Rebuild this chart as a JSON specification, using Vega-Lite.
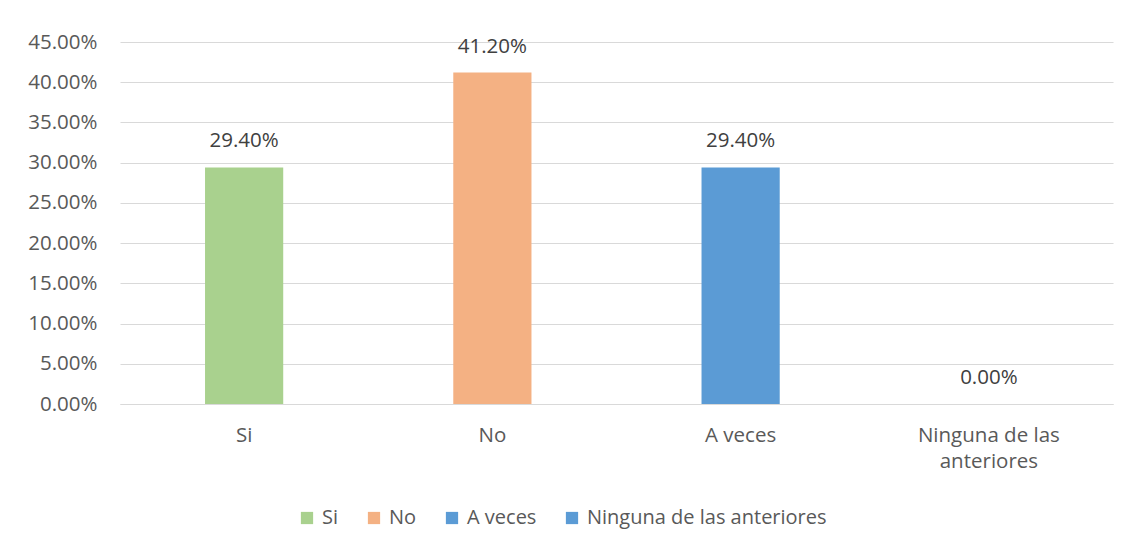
{
  "$schema": "https://vega.github.io/schema/vega-lite/v6.json",
  "width": 993,
  "height": 362,
  "autosize": {"type": "none"},
  "padding": {"left": 120, "top": 42, "right": 25, "bottom": 143},
  "background": "white",
  "config": {
    "view": {"stroke": null},
    "font": "Open Sans",
    "axis": {"labelFont": "Open Sans", "labelFontSize": 20.5, "labelColor": "#595959", "gridColor": "#D9D9D9", "ticks": false, "title": null},
    "legend": {"labelFont": "Open Sans", "labelFontSize": 20, "labelColor": "#595959", "labelLimit": 500}
  },
  "data": {
    "values": [
      {"categoria": "Si", "valor": 0.294},
      {"categoria": "No", "valor": 0.412},
      {"categoria": "A veces", "valor": 0.294},
      {"categoria": "Ninguna de las anteriores", "valor": 0.0}
    ]
  },
  "encoding": {
    "x": {
      "field": "categoria",
      "type": "nominal",
      "sort": null,
      "scale": {"paddingInner": 0, "paddingOuter": 0},
      "axis": {
        "labelAngle": 0,
        "labelPadding": 21,
        "labelBaseline": "top",
        "labelLineHeight": 26,
        "labelExpr": "datum.value == 'Ninguna de las anteriores' ? ['Ninguna de las', 'anteriores'] : datum.value",
        "domainColor": "#D9D9D9",
        "grid": false
      }
    },
    "y": {
      "field": "valor",
      "type": "quantitative",
      "scale": {"domain": [0, 0.45], "nice": false},
      "axis": {"format": ".2%", "values": [0, 0.05, 0.1, 0.15, 0.2, 0.25, 0.3, 0.35, 0.4, 0.45], "domain": false, "labelPadding": 23, "grid": true}
    }
  },
  "layer": [
    {
      "mark": {"type": "bar", "width": {"band": 0.315}},
      "encoding": {
        "color": {
          "field": "categoria",
          "type": "nominal",
          "sort": null,
          "scale": {"domain": ["Si", "No", "A veces", "Ninguna de las anteriores"], "range": ["#A9D18E", "#F4B183", "#5B9BD5", "#5B9BD5"]},
          "legend": {
            "title": null,
            "orient": "none",
            "direction": "horizontal",
            "legendX": 177,
            "legendY": 466,
            "symbolType": "square",
            "symbolSize": 150,
            "symbolStrokeWidth": 0,
            "symbolOpacity": 1,
            "labelOffset": 5,
            "columnPadding": 25
          }
        }
      }
    },
    {
      "mark": {"type": "text", "baseline": "middle", "dy": -26, "fontSize": 20.5, "color": "#404040"},
      "encoding": {
        "text": {"field": "valor", "type": "quantitative", "format": ".2%"}
      }
    }
  ]
}
